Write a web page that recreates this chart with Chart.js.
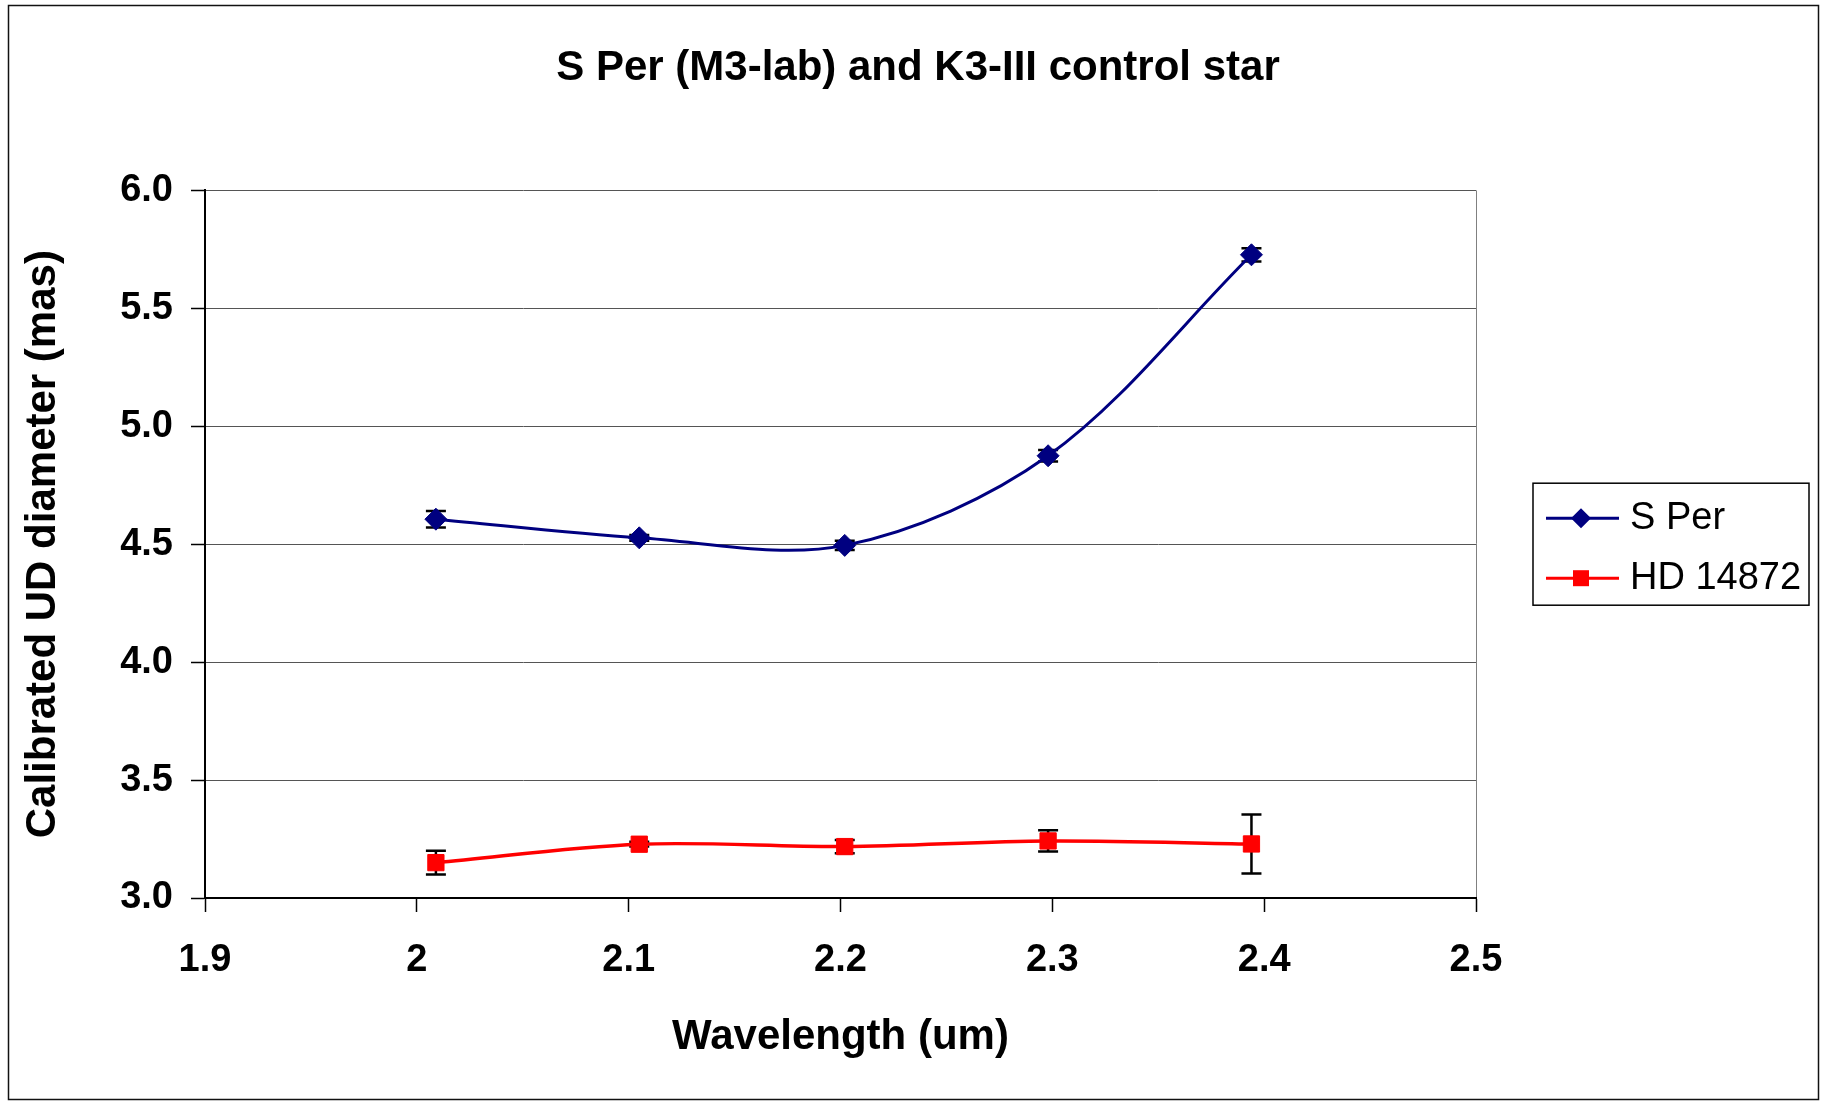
<!DOCTYPE html>
<html>
<head>
<meta charset="utf-8">
<title>S Per (M3-lab) and K3-III control star</title>
<script src="https://cdn.jsdelivr.net/npm/chart.js@4/dist/chart.umd.min.js"></script>
<style>
  html, body { margin: 0; padding: 0; background: #fff; }
  #wrap { width: 1822px; height: 1101px; }
</style>
</head>
<body>
<div id="wrap"><canvas id="diamChart" width="1822" height="1101"></canvas></div>
<script>
// data
const wavelength = [2.009, 2.105, 2.202, 2.298, 2.394];
const sPer = [4.606, 4.527, 4.495, 4.875, 5.727];
const sPerErr = [0.035, 0.012, 0.02, 0.024, 0.028];
const hd14872 = [3.150, 3.228, 3.218, 3.242, 3.229];
const hd14872Err = [0.05, 0.01, 0.028, 0.045, 0.125];
const xTicks = [1.9, 2.0, 2.1, 2.2, 2.3, 2.4, 2.5];
const yTicks = [3.0, 3.5, 4.0, 4.5, 5.0, 5.5, 6.0];
const seriesNames = ['S Per', 'HD 14872'];

const FONT = "'Liberation Sans', Arial, sans-serif";
const NAVY = '#000080';
const RED = '#ff0000';

function toPoints(xs, ys) {
    return xs.map((x, i) => ({x: x, y: ys[i]}));
}

// Error bars, drawn through the chart scales before the series
const errorBars = {
    id: 'errorBars',
    beforeDatasetsDraw(chart) {
        const ctx = chart.ctx;
        const xs = chart.scales.x;
        const ys = chart.scales.y;
        const errs = [sPerErr, hd14872Err];
        ctx.save();
        ctx.strokeStyle = '#000';
        ctx.lineWidth = 2.5;
        chart.data.datasets.forEach((ds, d) => {
            ds.data.forEach((p, i) => {
                const px = xs.getPixelForValue(p.x);
                const top = ys.getPixelForValue(p.y + errs[d][i]);
                const bot = ys.getPixelForValue(p.y - errs[d][i]);
                ctx.beginPath();
                ctx.moveTo(px, top); ctx.lineTo(px, bot);
                ctx.moveTo(px - 10, top); ctx.lineTo(px + 10, top);
                ctx.moveTo(px - 10, bot); ctx.lineTo(px + 10, bot);
                ctx.stroke();
            });
        });
        ctx.restore();
    }
};

// Excel style legend box and outer frame
const boxLegend = {
    id: 'boxLegend',
    afterDraw(chart) {
        const ctx = chart.ctx;
        const area = chart.chartArea;
        const left = area.right + 57;
        const mid = (area.top + area.bottom) / 2;
        const top = mid - 61;
        ctx.save();
        ctx.strokeStyle = '#000';
        ctx.lineWidth = 1.5;
        ctx.strokeRect(left, top, 276, 122);

        const rows = [
            {name: seriesNames[0], color: NAVY, y: top + 35, shape: 'diamond'},
            {name: seriesNames[1], color: RED, y: top + 95, shape: 'square'}
        ];
        rows.forEach(r => {
            ctx.strokeStyle = r.color;
            ctx.lineWidth = 3;
            ctx.beginPath();
            ctx.moveTo(left + 13, r.y);
            ctx.lineTo(left + 86, r.y);
            ctx.stroke();
            ctx.fillStyle = r.color;
            const cx = left + 48;
            ctx.beginPath();
            if (r.shape === 'diamond') {
                ctx.moveTo(cx, r.y - 10); ctx.lineTo(cx + 10, r.y);
                ctx.lineTo(cx, r.y + 10); ctx.lineTo(cx - 10, r.y);
            } else {
                ctx.rect(cx - 8, r.y - 8, 16, 16);
            }
            ctx.closePath();
            ctx.fill();
            ctx.fillStyle = '#000';
            ctx.font = '38px ' + FONT;
            ctx.textBaseline = 'middle';
            ctx.textAlign = 'left';
            ctx.fillText(r.name, left + 97, r.y);
        });

        ctx.strokeStyle = '#111';
        ctx.lineWidth = 1.5;
        ctx.strokeRect(8.5, 5.5, 1810, 1094);
        ctx.restore();
    }
};

const ctxDiam = document.getElementById('diamChart');
const diamChart = new Chart(ctxDiam, {
    type: 'line',
    data: {
        datasets: [{
            label: seriesNames[0],
            data: toPoints(wavelength, sPer),
            borderColor: NAVY,
            backgroundColor: NAVY,
            borderWidth: 3,
            pointStyle: 'rectRot',
            pointRadius: 11,
            pointBorderWidth: 1,
            pointBackgroundColor: NAVY,
            pointBorderColor: NAVY,
            tension: 0.33,
            fill: false
        }, {
            label: seriesNames[1],
            data: toPoints(wavelength, hd14872),
            borderColor: RED,
            backgroundColor: RED,
            borderWidth: 3.5,
            pointStyle: 'rect',
            pointRadius: 11.5,
            pointBorderWidth: 1,
            pointBackgroundColor: RED,
            pointBorderColor: RED,
            tension: 0.33,
            fill: false
        }]
    },
    options: {
        responsive: false,
        animation: false,
        layout: {
            padding: {left: 14, right: 0, top: 0, bottom: 0}
        },
        plugins: {
            legend: {display: false},
            tooltip: {enabled: false},
            title: {
                display: true,
                text: 'S Per (M3-lab) and K3-III control star',
                color: '#000',
                font: {family: FONT, size: 42, weight: 'bold'},
                padding: {top: 43, bottom: 97}
            }
        },
        scales: {
            x: {
                type: 'linear',
                min: xTicks[0],
                max: xTicks[xTicks.length - 1],
                afterBuildTicks: (s) => { s.ticks = xTicks.map(v => ({value: v})); },
                afterFit: (s) => { s.height = 203; },
                ticks: {
                    color: '#000',
                    font: {family: FONT, size: 38, weight: 'bold'},
                    padding: 26,
                    maxRotation: 0,
                    callback: (v) => String(Number(v.toFixed(1)))
                },
                grid: {
                    color: (c) => (c.tick && c.tick.value === 2.5) ? '#808080' : 'rgba(0,0,0,0)',
                    tickColor: '#000',
                    tickLength: 14,
                    tickWidth: 1.5
                },
                border: {color: '#000', width: 2},
                title: {
                    display: true,
                    text: 'Wavelength (um)',
                    color: '#000',
                    font: {family: FONT, size: 42, weight: 'bold'},
                    padding: {top: 0, bottom: 38}
                }
            },
            y: {
                type: 'linear',
                min: yTicks[0],
                max: yTicks[yTicks.length - 1],
                afterBuildTicks: (s) => { s.ticks = yTicks.map(v => ({value: v})); },
                afterFit: (s) => { s.width = 191; },
                ticks: {
                    color: '#000',
                    font: {family: FONT, size: 38, weight: 'bold'},
                    padding: 18,
                    callback: (v) => v.toFixed(1)
                },
                grid: {
                    color: '#555555',
                    lineWidth: 1,
                    tickColor: '#000',
                    tickLength: 14,
                    tickWidth: 1.5
                },
                border: {color: '#000', width: 2},
                title: {
                    display: true,
                    text: 'Calibrated UD diameter (mas)',
                    color: '#000',
                    font: {family: FONT, size: 42, weight: 'bold'},
                    padding: {top: 4, bottom: 0}
                }
            },
            // empty right-hand box that keeps room for the legend
            side: {
                type: 'linear',
                position: 'right',
                display: true,
                afterFit: (s) => { s.width = 346; },
                ticks: {display: false},
                grid: {display: false},
                border: {display: false}
            }
        }
    },
    plugins: [errorBars, boxLegend]
});
</script>
</body>
</html>
